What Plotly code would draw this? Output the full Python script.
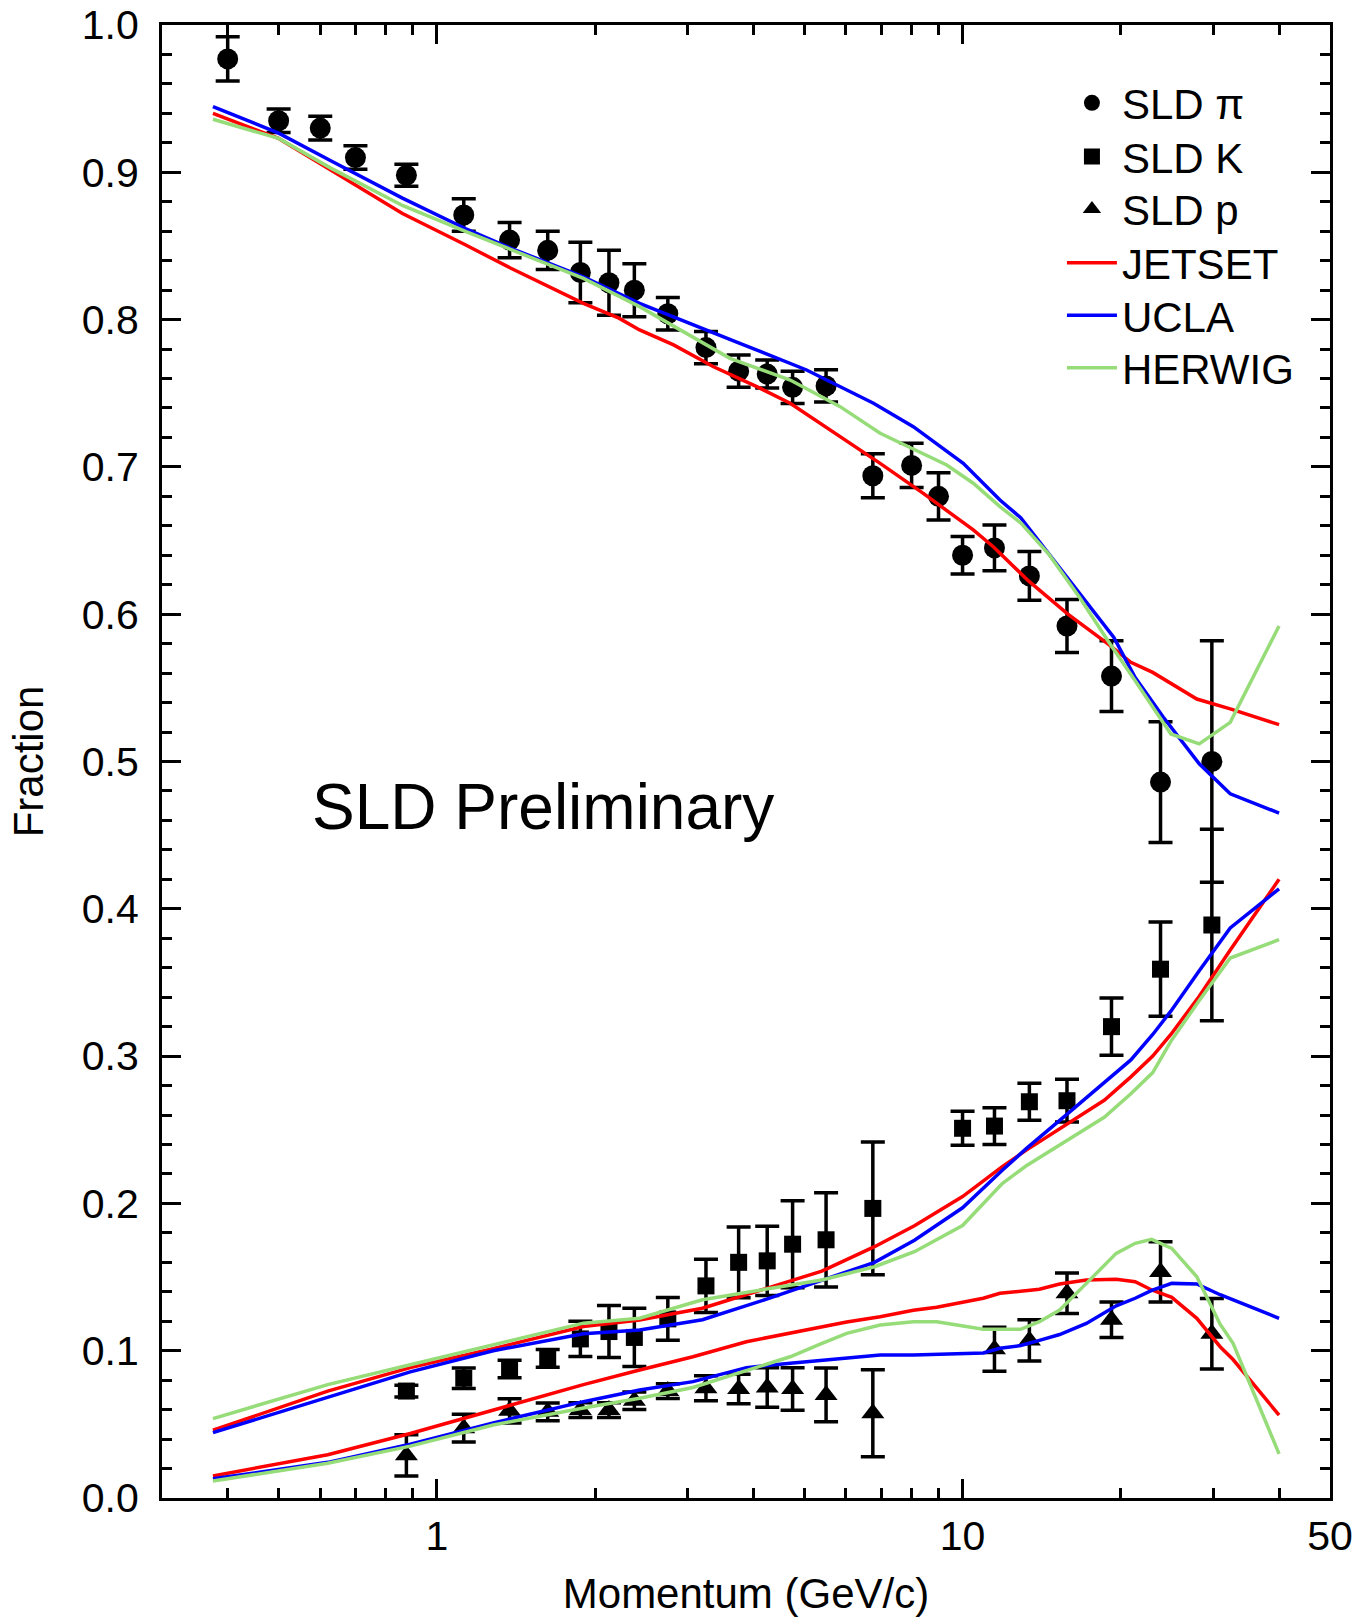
import math
import plotly.graph_objects as go

# ---------------- data ----------------
pi_x = [0.40, 0.50, 0.60, 0.70, 0.875, 1.125, 1.375, 1.625, 1.875, 2.125, 2.375, 2.75,
        3.25, 3.75, 4.25, 4.75, 5.5, 6.75, 8.0, 9.0, 10.0, 11.5, 13.4, 15.8, 19.2, 23.8, 29.8]
pi_y = [0.977, 0.935, 0.930, 0.910, 0.898, 0.871, 0.854, 0.847, 0.832, 0.825, 0.820, 0.804,
        0.781, 0.765, 0.763, 0.754, 0.755, 0.694, 0.701, 0.680, 0.640, 0.645, 0.626, 0.592,
        0.558, 0.486, 0.500]
pi_err = [0.015, 0.008, 0.008, 0.008, 0.0075, 0.011, 0.012, 0.013, 0.0205, 0.022, 0.018, 0.011,
          0.011, 0.011, 0.0095, 0.011, 0.011, 0.015, 0.015, 0.016, 0.0127, 0.0155, 0.0166, 0.018,
          0.024, 0.041, 0.082]

k_x = [0.875, 1.125, 1.375, 1.625, 1.875, 2.125, 2.375, 2.75, 3.25, 3.75, 4.25, 4.75, 5.5,
       6.75, 10.0, 11.5, 13.4, 15.8, 19.2, 23.8, 29.8]
k_y = [0.0726, 0.0813, 0.0876, 0.0948, 0.108, 0.113, 0.109, 0.1216, 0.144, 0.160, 0.161,
       0.1723, 0.1753, 0.1966, 0.251, 0.2525, 0.269, 0.2697, 0.320, 0.359, 0.389]
k_err = [0.004, 0.007, 0.006, 0.006, 0.012, 0.0177, 0.0198, 0.0145, 0.018, 0.024, 0.0235,
         0.0295, 0.032, 0.045, 0.0115, 0.0125, 0.0125, 0.0145, 0.0195, 0.032, 0.065]

p_x = [0.875, 1.125, 1.375, 1.625, 1.875, 2.125, 2.375, 2.75, 3.25, 3.75, 4.25, 4.75, 5.5,
       6.75, 11.5, 13.4, 15.8, 19.2, 23.8, 29.8]
p_y = [0.029, 0.0474, 0.0592, 0.0585, 0.0597, 0.0597, 0.066, 0.0726, 0.0745, 0.074, 0.075,
       0.074, 0.070, 0.0575, 0.101, 0.107, 0.139, 0.121, 0.1535, 0.1115]
p_err = [0.014, 0.0094, 0.0082, 0.006, 0.005, 0.005, 0.006, 0.005, 0.0085, 0.010, 0.0134,
         0.0144, 0.0183, 0.0295, 0.015, 0.014, 0.0138, 0.012, 0.0205, 0.024]

# model curves
jet_pi_x = [0.375, 0.5, 0.627, 0.86, 1.13, 1.38, 1.9, 2.22, 2.43, 2.82, 3.36, 4.06, 4.70,
            5.85, 6.97, 8.42, 10.48, 11.44, 13.35, 15.86, 18.93, 20.9, 23.0, 27.9, 32.3, 40.0]
jet_pi_y = [0.940, 0.923, 0.9017, 0.872, 0.851, 0.835, 0.811, 0.801, 0.793, 0.7828, 0.768,
            0.7545, 0.7432, 0.7205, 0.7024, 0.682, 0.6572, 0.6458, 0.6226, 0.600, 0.5797,
            0.5673, 0.5605, 0.5424, 0.5357, 0.525]
ucla_pi_x = [0.375, 0.5, 0.627, 0.86, 1.13, 1.38, 1.9, 2.43, 3.77, 5.05, 6.77, 8.06, 10.03,
             11.78, 12.9, 14.3, 16.7, 19.4, 21.3, 24.1, 28.2, 32.3, 40.0]
ucla_pi_y = [0.9446, 0.9266, 0.908, 0.8825, 0.862, 0.8486, 0.829, 0.811, 0.7839, 0.7658,
             0.7432, 0.7273, 0.7024, 0.6775, 0.6655, 0.645, 0.6135, 0.5842, 0.557, 0.530,
             0.4984, 0.4781, 0.465]
her_pi_x = [0.375, 0.5, 0.627, 0.86, 1.13, 1.38, 1.9, 2.43, 3.61, 4.70, 5.85, 6.97, 8.14,
            9.33, 10.48, 11.78, 12.9, 14.6, 16.7, 18.9, 21.3, 24.9, 28.2, 32.3, 40.0]
her_pi_y = [0.936, 0.923, 0.903, 0.8775, 0.860, 0.8475, 0.828, 0.8088, 0.7737, 0.759, 0.7409,
            0.7228, 0.7115, 0.7013, 0.6889, 0.673, 0.662, 0.6406, 0.6113, 0.582, 0.5548,
            0.5187, 0.512, 0.5266, 0.592]

k_model_x = [0.375, 0.62, 0.89, 1.28, 1.9, 2.43, 3.2, 4.24, 5.4, 6.8, 8.1, 10.0, 11.9, 13.2,
             15.85, 18.6, 20.9, 23.0, 24.9, 28.2, 32.3, 40.0]
jet_k_y = [0.046, 0.0726, 0.0885, 0.1014, 0.1164, 0.1208, 0.1288, 0.1424, 0.154, 0.1706,
           0.1848, 0.2046, 0.2249, 0.236, 0.2542, 0.270, 0.2859, 0.300, 0.3147, 0.3406,
           0.372, 0.420]
ucla_k_y = [0.0444, 0.0683, 0.0856, 0.100, 0.1115, 0.114, 0.121, 0.135, 0.1475, 0.160, 0.175,
            0.197, 0.2225, 0.237, 0.261, 0.282, 0.2974, 0.3147, 0.3305, 0.358, 0.387, 0.4136]
her_k_y = [0.0539, 0.077, 0.0905, 0.1043, 0.1187, 0.122, 0.1346, 0.1419, 0.148, 0.157,
           0.1672, 0.185, 0.2135, 0.2254, 0.2427, 0.2585, 0.2744, 0.2888, 0.310, 0.3378,
           0.3666, 0.379]

p_model_x = [0.375, 0.62, 0.89, 1.28, 1.9, 2.43, 3.07, 3.88, 4.70, 5.36, 6.02, 6.97, 8.06,
             8.93, 10.95, 11.78, 12.9, 14.0, 15.3, 17.2, 19.6, 21.3, 22.9, 25.0, 27.9, 30.9,
             32.7, 40.0]
jet_p_y = [0.015, 0.0294, 0.0438, 0.0597, 0.077, 0.0869, 0.0959, 0.1061, 0.1118, 0.1163,
           0.1195, 0.1231, 0.1275, 0.1295, 0.1356, 0.139, 0.1405, 0.1417, 0.1453, 0.148,
           0.1485, 0.1468, 0.1412, 0.1362, 0.122, 0.1027, 0.094, 0.0563]
ucla_p_y = [0.013, 0.0242, 0.0366, 0.051, 0.0654, 0.0733, 0.079, 0.0885, 0.0915, 0.0935,
            0.095, 0.0971, 0.0971, 0.0975, 0.0985, 0.1016, 0.1035, 0.107, 0.111, 0.1185,
            0.1305, 0.1356, 0.141, 0.1457, 0.1453, 0.138, 0.1345, 0.122]
her_p_y = [0.0115, 0.0236, 0.0352, 0.0496, 0.0611, 0.0677, 0.075, 0.0862, 0.0959, 0.1045,
           0.1118, 0.1174, 0.1197, 0.1197, 0.1145, 0.1145, 0.1145, 0.1197, 0.1276, 0.1457,
           0.1661, 0.1729, 0.1756, 0.1695, 0.1502, 0.118, 0.105, 0.030]

x_tick_vals = [1, 10, 50]
x_tick_text = ["1", "10", "50"]
x_minor_vals = [0.4, 0.5, 0.6, 0.7, 0.8, 0.9, 2, 3, 4, 5, 6, 7, 8, 9, 20, 30, 40]
y_tick_vals = [0.0, 0.1, 0.2, 0.3, 0.4, 0.5, 0.6, 0.7, 0.8, 0.9, 1.0]

# ---------------- styling ----------------
FONT = "Liberation Sans, Arial, sans-serif"
RED = "#ff0000"
BLUE = "#0000ff"
GREEN = "#96dc78"

fig = go.Figure()

def err(arr):
    return dict(type="data", array=arr, visible=True, color="black", thickness=3.5, width=12)

fig.add_trace(go.Scatter(x=pi_x, y=pi_y, mode="markers", name="SLD π", legend="legend",
                         marker=dict(symbol="circle", size=21, color="black"),
                         error_y=err(pi_err)))
fig.add_trace(go.Scatter(x=k_x, y=k_y, mode="markers", name="SLD K", legend="legend2",
                         marker=dict(symbol="square", size=17, color="black"),
                         error_y=err(k_err)))
fig.add_trace(go.Scatter(x=p_x, y=p_y, mode="markers", name="SLD p", legend="legend3",
                         marker=dict(symbol="triangle-up", size=20, color="black"),
                         error_y=err(p_err)))

models = [
    ("JETSET", RED, "legend4",
     [(jet_pi_x, jet_pi_y), (k_model_x, jet_k_y), (p_model_x, jet_p_y)]),
    ("UCLA", BLUE, "legend5",
     [(ucla_pi_x, ucla_pi_y), (k_model_x, ucla_k_y), (p_model_x, ucla_p_y)]),
    ("HERWIG", GREEN, "legend6",
     [(her_pi_x, her_pi_y), (k_model_x, her_k_y), (p_model_x, her_p_y)]),
]
for name, col, leg, curves in models:
    for i, (xs, ys) in enumerate(curves):
        fig.add_trace(go.Scatter(x=xs, y=ys, mode="lines", name=name, legendgroup=name,
                                 legend=leg, showlegend=(i == 0),
                                 line=dict(color=col, width=3.5)))

fig.add_annotation(x=math.log10(1.59), y=0.469, xref="x", yref="y", text="SLD Preliminary",
                   showarrow=False, font=dict(family=FONT, size=64, color="black"))

axis_common = dict(showline=True, linewidth=3, linecolor="black", mirror="allticks",
                   ticks="inside", ticklen=19, tickwidth=3, tickcolor="black",
                   showgrid=False, zeroline=False, automargin=False,
                   ticklabeloverflow="allow",
                   tickfont=dict(family=FONT, size=41, color="black"))

fig.update_xaxes(type="log", range=[math.log10(0.3), math.log10(50)],
                 tickmode="array", tickvals=x_tick_vals, ticktext=x_tick_text,
                 minor=dict(tickmode="array", tickvals=x_minor_vals, ticks="inside",
                            ticklen=10, tickwidth=3, tickcolor="black", showgrid=False),
                 title=dict(text="Momentum (GeV/c)", font=dict(family=FONT, size=42, color="black"),
                            standoff=24),
                 ticklabelstandoff=0,
                 **axis_common)
fig.update_yaxes(range=[0, 1.0], tickmode="array", tickvals=y_tick_vals, tickformat=".1f",
                 minor=dict(dtick=0.02, ticks="inside", ticklen=10, tickwidth=3,
                            tickcolor="black", showgrid=False),
                 title=dict(text="Fraction", font=dict(family=FONT, size=42, color="black"),
                            standoff=26),
                 ticklabelstandoff=12,
                 **axis_common)

legend_rows_y = [0.9470, 0.9106, 0.8749, 0.8385, 0.8028, 0.7671]
legend_keys = ["legend", "legend2", "legend3", "legend4", "legend5", "legend6"]
leg_layout = {}
for key, ly in zip(legend_keys, legend_rows_y):
    leg_layout[key] = dict(x=0.7705, y=ly, xanchor="left", yanchor="middle",
                           bgcolor="rgba(0,0,0,0)", borderwidth=0, itemwidth=50,
                           font=dict(family=FONT, size=42, color="black"))

fig.update_layout(
    width=1361, height=1617,
    margin=dict(l=162, r=31, t=25, b=119, autoexpand=False),
    paper_bgcolor="white", plot_bgcolor="white",
    font=dict(family=FONT, color="black"),
    showlegend=True,
    **leg_layout,
)

# remove the browser's default 8px body margin so the figure fills the window exactly
fig.write_html("out.html", config={"displayModeBar": False},
               post_script="document.body.style.margin='0';")
